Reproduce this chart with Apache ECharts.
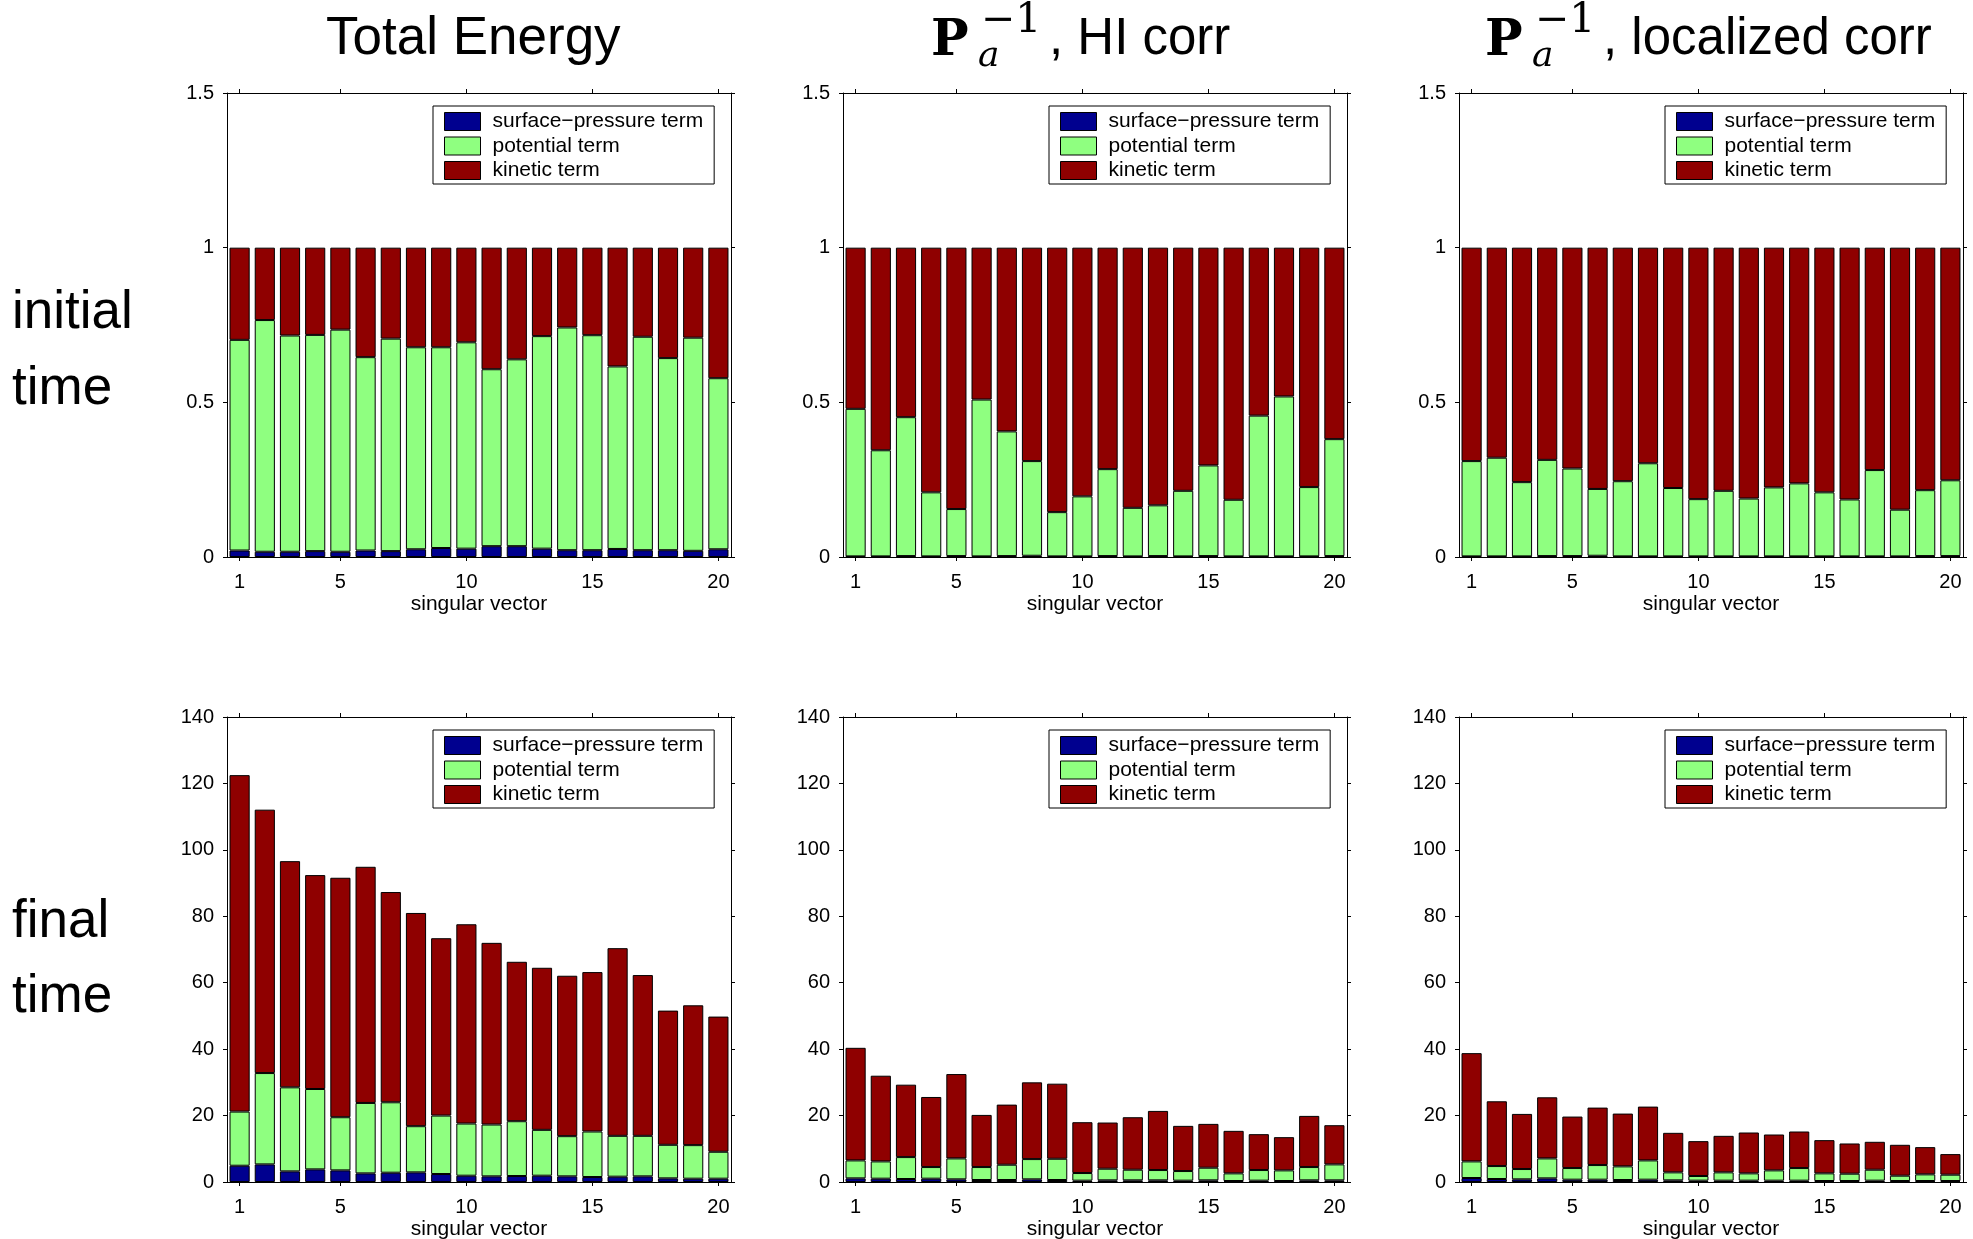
<!DOCTYPE html>
<html>
<head>
<meta charset="utf-8">
<script src="https://cdn.jsdelivr.net/npm/echarts@6/dist/echarts.min.js"></script>
<style>
  html, body { margin: 0; padding: 0; background: #fff; }
  #chart { width: 1973px; height: 1239px; }
</style>
</head>
<body>
<div id="chart"></div>
<script>
// Singular vector index on the x axis
const vectors = ['1', '2', '3', '4', '5', '6', '7', '8', '9', '10', '11', '12', '13', '14', '15', '16', '17', '18', '19', '20'];
const xTickLabels = ['1', '5', '10', '15', '20'];
const termNames = ['surface\u2212pressure term', 'potential term', 'kinetic term'];
const termColors = ['#00008f', '#8fff80', '#8f0000'];

// Initial time, energy fractions (sum to 1)
const teInitSp  = [0.021,0.017,0.017,0.019,0.017,0.021,0.019,0.025,0.029,0.027,0.035,0.035,0.027,0.022,0.022,0.026,0.022,0.022,0.020,0.025];
const teInitPot = [0.681,0.749,0.699,0.699,0.718,0.625,0.687,0.653,0.649,0.667,0.572,0.604,0.687,0.720,0.695,0.590,0.690,0.621,0.689,0.553];
const teInitKin = [0.298,0.234,0.284,0.282,0.265,0.354,0.294,0.322,0.322,0.306,0.393,0.361,0.286,0.258,0.283,0.384,0.288,0.357,0.291,0.422];

const hiInitSp  = [0.002,0.002,0.003,0.002,0.003,0.002,0.003,0.004,0.002,0.002,0.003,0.002,0.003,0.002,0.003,0.002,0.002,0.002,0.002,0.003];
const hiInitPot = [0.477,0.343,0.449,0.207,0.152,0.507,0.403,0.306,0.143,0.194,0.281,0.157,0.164,0.212,0.293,0.183,0.455,0.517,0.224,0.378];
const hiInitKin = [0.521,0.655,0.548,0.791,0.845,0.491,0.594,0.690,0.855,0.804,0.716,0.841,0.833,0.786,0.704,0.815,0.543,0.481,0.774,0.619];

const locInitSp  = [0.002,0.002,0.002,0.003,0.003,0.004,0.002,0.002,0.002,0.002,0.002,0.002,0.002,0.002,0.002,0.002,0.002,0.002,0.003,0.003];
const locInitPot = [0.308,0.319,0.240,0.311,0.283,0.216,0.243,0.301,0.221,0.185,0.212,0.187,0.223,0.236,0.207,0.184,0.279,0.151,0.213,0.245];
const locInitKin = [0.690,0.679,0.758,0.686,0.714,0.780,0.755,0.697,0.777,0.813,0.786,0.811,0.775,0.762,0.791,0.814,0.719,0.847,0.784,0.752];

// Final time, amplified energy
const teFinSp  = [4.9,5.3,3.2,3.8,3.5,2.6,2.8,2.9,2.4,1.9,1.7,1.8,1.9,1.7,1.5,1.6,1.7,1.1,1.0,1.0];
const teFinPot = [16.3,27.5,25.3,24.2,16.0,21.2,21.2,13.9,17.6,15.7,15.6,16.5,13.8,12.1,13.7,12.3,12.2,10.1,10.1,8.1];
const teFinKin = [101.3,79.3,68.1,64.4,72.1,71.1,63.3,64.2,53.4,60.0,54.7,48.0,48.8,48.3,48.0,56.5,48.4,40.4,42.1,40.7];

const hiFinSp  = [1.1,1.0,0.9,1.0,0.8,0.6,0.6,0.8,0.6,0.4,0.5,0.5,0.5,0.4,0.5,0.3,0.4,0.3,0.5,0.5];
const hiFinPot = [5.4,5.2,6.6,3.5,6.3,3.9,4.6,6.1,6.4,2.3,3.5,3.2,3.1,2.9,3.8,2.3,3.2,3.2,4.0,4.8];
const hiFinKin = [33.9,25.8,21.8,21.1,25.4,15.7,18.1,23.1,22.6,15.3,13.9,15.8,17.8,13.6,13.2,12.8,10.8,10.0,15.4,11.8];

const locFinSp  = [1.2,0.9,0.8,1.1,0.7,0.7,0.6,0.7,0.5,0.4,0.4,0.4,0.4,0.4,0.3,0.3,0.4,0.3,0.3,0.3];
const locFinPot = [5.0,3.9,3.1,6.0,3.5,4.4,4.1,5.8,2.4,1.4,2.5,2.2,3.1,3.8,2.3,2.2,3.3,1.6,2.0,1.9];
const locFinKin = [32.6,19.5,16.6,18.4,15.5,17.3,15.9,16.2,11.9,10.5,11.0,12.3,10.8,11.0,10.0,9.1,8.4,9.3,8.2,6.2];

// y-axis scales per row
const initTicks = { min: 0, max: 1.5, interval: 0.5 };
const finTicks  = { min: 0, max: 140, interval: 20 };

const panels = [
  { row: 0, col: 0, terms: [teInitSp,  teInitPot,  teInitKin] },
  { row: 0, col: 1, terms: [hiInitSp,  hiInitPot,  hiInitKin] },
  { row: 0, col: 2, terms: [locInitSp, locInitPot, locInitKin] },
  { row: 1, col: 0, terms: [teFinSp,   teFinPot,   teFinKin] },
  { row: 1, col: 1, terms: [hiFinSp,   hiFinPot,   hiFinKin] },
  { row: 1, col: 2, terms: [locFinSp,  locFinPot,  locFinKin] }
];

// ---- layout ----
const SANS = 'Liberation Sans, Arial, Helvetica, sans-serif';
const SERIF = 'DejaVu Serif, Liberation Serif, serif';
const colLeft = [227, 843, 1459];
const gridW = 504;
const rowTop = [93, 717];
const gridH = [464, 465];

// show a tick/label only on the labelled singular vectors
const showTick = (idx, val) => xTickLabels.indexOf(String(val)) >= 0;

const grids = [], xAxes = [], yAxes = [], series = [], legends = [];

panels.forEach((p, i) => {
  const left = colLeft[p.col], top = rowTop[p.row];
  grids.push({
    left: left, top: top, width: gridW, height: gridH[p.row],
    show: false, outerBoundsMode: 'none', containLabel: false
  });
  const yr = p.row === 0 ? initTicks : finTicks;
  const tickStyle = { show: true, inside: false, length: 4, lineStyle: { color: '#000', width: 1 } };
  const lineStyle = { show: true, onZero: false, lineStyle: { color: '#000', width: 1 } };
  const xTickStyle = Object.assign({ alignWithLabel: true, interval: showTick }, tickStyle);

  // bottom x axis with labels
  xAxes.push({
    type: 'category', gridIndex: i, position: 'bottom', data: vectors, boundaryGap: true,
    axisLine: lineStyle,
    axisTick: xTickStyle,
    axisLabel: { interval: showTick, color: '#000', fontSize: 20, fontFamily: SANS, margin: 15 },
    splitLine: { show: false },
    name: 'singular vector', nameLocation: 'middle', nameGap: 37,
    nameTextStyle: { color: '#000', fontSize: 21, fontFamily: SANS }
  });
  // top x axis (box side with ticks)
  xAxes.push({
    type: 'category', gridIndex: i, position: 'top', data: vectors, boundaryGap: true,
    axisLine: lineStyle,
    axisTick: xTickStyle,
    axisLabel: { show: false },
    splitLine: { show: false }
  });
  // left y axis with labels
  yAxes.push({
    type: 'value', gridIndex: i, position: 'left', min: yr.min, max: yr.max, interval: yr.interval,
    axisLine: lineStyle, axisTick: tickStyle,
    axisLabel: { color: '#000', fontSize: 20, fontFamily: SANS, margin: 13 },
    splitLine: { show: false }
  });
  // right y axis (box side with ticks)
  yAxes.push({
    type: 'value', gridIndex: i, position: 'right', min: yr.min, max: yr.max, interval: yr.interval,
    axisLine: lineStyle, axisTick: tickStyle,
    axisLabel: { show: false },
    splitLine: { show: false }
  });

  p.terms.forEach((vals, k) => {
    series.push({
      type: 'bar', name: termNames[k], stack: 'panel' + i,
      xAxisIndex: 2 * i, yAxisIndex: 2 * i,
      barWidth: '80%',
      itemStyle: { color: termColors[k], borderColor: '#000', borderWidth: 1 },
      emphasis: { disabled: true },
      data: vals
    });
  });

  legends.push({
    data: termNames, orient: 'vertical',
    left: left + 206, top: top + 13,
    itemWidth: 36, itemHeight: 18, itemGap: 3.5,
    padding: [5, 11, 3, 11],
    borderColor: '#000', borderWidth: 1, backgroundColor: '#fff',
    icon: 'rect', selectedMode: false,
    itemStyle: { borderColor: '#000', borderWidth: 1 },
    textStyle: { color: '#000', fontSize: 21, fontFamily: SANS, padding: [0, 0, 0, 7] }
  });
});

// ---- column titles and row labels ----
function mathTitle(x, rest) {
  return [
    { type: 'text', left: x, top: 17, style: { text: 'P', font: 'bold 50px ' + SERIF, fill: '#000' } },
    { type: 'text', left: x + 50, top: 1, style: { text: '\u22121', font: '41px ' + SERIF, fill: '#000' } },
    { type: 'text', left: x + 47, top: 39, style: { text: 'a', font: 'italic 36px ' + SERIF, fill: '#000' } },
    { type: 'text', left: x + 118, top: 14, style: { text: rest, font: '51px ' + SANS, fill: '#000' } }
  ];
}

const graphics = [
  { type: 'text', left: 326, top: 13, style: { text: 'Total Energy', font: '53px ' + SANS, fill: '#000' } },
  ...mathTitle(931, ', HI corr'),
  ...mathTitle(1485, ', localized corr'),
  { type: 'text', left: 12, top: 287, style: { text: 'initial', font: '53px ' + SANS, fill: '#000' } },
  { type: 'text', left: 12, top: 363, style: { text: 'time', font: '53px ' + SANS, fill: '#000' } },
  { type: 'text', left: 12, top: 896, style: { text: 'final', font: '53px ' + SANS, fill: '#000' } },
  { type: 'text', left: 12, top: 971, style: { text: 'time', font: '53px ' + SANS, fill: '#000' } }
];

const chart = echarts.init(document.getElementById('chart'), null, { renderer: 'canvas' });
chart.setOption({
  animation: false,
  backgroundColor: '#fff',
  grid: grids,
  xAxis: xAxes,
  yAxis: yAxes,
  legend: legends,
  series: series,
  graphic: graphics
});
</script>
</body>
</html>
